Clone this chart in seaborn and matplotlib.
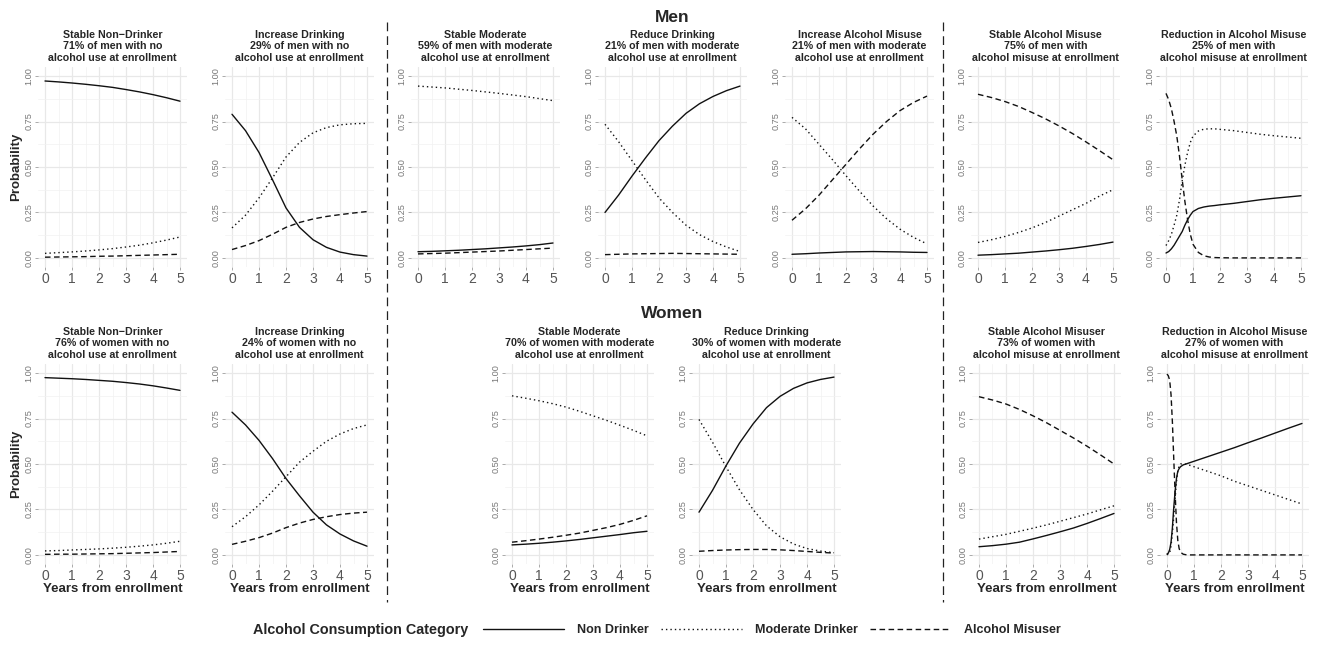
import matplotlib
matplotlib.use("Agg")
import matplotlib.pyplot as plt
import seaborn as sns
import pandas as pd
from matplotlib.lines import Line2D
from matplotlib.ticker import MultipleLocator, FormatStrFormatter

# ---- data ----
CATEGORIES = ["Non Drinker", "Moderate Drinker", "Alcohol Misuser"]
YEARS = [0, 0.5, 1, 1.5, 2, 2.5, 3, 3.5, 4, 4.5, 5]
YEARS_FAST_MEN = [0, 0.1, 0.2, 0.3, 0.4, 0.5, 0.6, 0.7, 0.8, 0.9, 1.0, 1.2, 1.4,
                  1.6, 1.8, 2.0, 2.5, 3, 3.5, 4, 4.5, 5]
YEARS_FAST_WOMEN = [0, 0.05, 0.1, 0.15, 0.2, 0.25, 0.3, 0.35, 0.4, 0.45, 0.5, 0.6,
                    0.7, 0.8, 1.0, 1.5, 2, 2.5, 3, 3.5, 4, 4.5, 5]

# men
men_stable_nondrinker_non = [0.973, 0.968, 0.962, 0.955, 0.947, 0.938, 0.926, 0.913, 0.898, 0.881, 0.862]
men_stable_nondrinker_mod = [0.025, 0.029, 0.033, 0.038, 0.044, 0.051, 0.060, 0.070, 0.083, 0.098, 0.115]
men_stable_nondrinker_mis = [0.004, 0.005, 0.006, 0.007, 0.009, 0.010, 0.012, 0.014, 0.016, 0.018, 0.020]

men_increase_drinking_non = [0.79, 0.70, 0.58, 0.43, 0.275, 0.168, 0.10, 0.058, 0.032, 0.018, 0.010]
men_increase_drinking_mod = [0.165, 0.235, 0.33, 0.44, 0.555, 0.635, 0.688, 0.717, 0.732, 0.738, 0.740]
men_increase_drinking_mis = [0.046, 0.068, 0.095, 0.13, 0.168, 0.195, 0.214, 0.228, 0.238, 0.247, 0.255]

men_stable_moderate_non = [0.034, 0.036, 0.039, 0.042, 0.046, 0.050, 0.055, 0.060, 0.066, 0.073, 0.082]
men_stable_moderate_mod = [0.945, 0.940, 0.935, 0.928, 0.921, 0.913, 0.905, 0.896, 0.887, 0.876, 0.865]
men_stable_moderate_mis = [0.022, 0.024, 0.026, 0.029, 0.032, 0.035, 0.038, 0.042, 0.046, 0.050, 0.054]

men_reduce_drinking_non = [0.25, 0.345, 0.45, 0.55, 0.645, 0.725, 0.795, 0.848, 0.888, 0.92, 0.945]
men_reduce_drinking_mod = [0.735, 0.64, 0.535, 0.43, 0.33, 0.25, 0.18, 0.128, 0.09, 0.06, 0.035]
men_reduce_drinking_mis = [0.018, 0.02, 0.022, 0.023, 0.024, 0.025, 0.024, 0.023, 0.022, 0.021, 0.02]

men_increase_misuse_non = [0.02, 0.023, 0.027, 0.03, 0.033, 0.034, 0.035, 0.034, 0.033, 0.031, 0.03]
men_increase_misuse_mod = [0.773, 0.71, 0.625, 0.54, 0.452, 0.367, 0.286, 0.216, 0.158, 0.113, 0.077]
men_increase_misuse_mis = [0.207, 0.27, 0.345, 0.43, 0.515, 0.60, 0.68, 0.75, 0.81, 0.855, 0.89]

men_stable_misuse_non = [0.015, 0.018, 0.022, 0.026, 0.032, 0.038, 0.045, 0.053, 0.063, 0.074, 0.087]
men_stable_misuse_mod = [0.085, 0.10, 0.118, 0.14, 0.165, 0.195, 0.23, 0.265, 0.30, 0.34, 0.375]
men_stable_misuse_mis = [0.90, 0.882, 0.86, 0.833, 0.80, 0.765, 0.726, 0.684, 0.638, 0.59, 0.54]

men_reduce_misuse_non = [0.027, 0.035, 0.05, 0.07, 0.095, 0.12, 0.145, 0.18, 0.21, 0.235, 0.255,
                         0.272, 0.28, 0.285, 0.288, 0.292, 0.30, 0.31, 0.32, 0.328, 0.335, 0.342]
men_reduce_misuse_mod = [0.068, 0.095, 0.13, 0.18, 0.235, 0.32, 0.425, 0.51, 0.58, 0.635, 0.67,
                         0.698, 0.708, 0.71, 0.71, 0.707, 0.70, 0.69, 0.68, 0.672, 0.665, 0.658]
men_reduce_misuse_mis = [0.905, 0.87, 0.82, 0.75, 0.67, 0.56, 0.43, 0.31, 0.21, 0.13, 0.075,
                         0.03, 0.012, 0.005, 0.002, 0.001, 0, 0, 0, 0, 0, 0]

# women
women_stable_nondrinker_non = [0.975, 0.972, 0.969, 0.965, 0.960, 0.955, 0.948, 0.940, 0.930, 0.918, 0.905]
women_stable_nondrinker_mod = [0.022, 0.024, 0.027, 0.030, 0.033, 0.037, 0.042, 0.048, 0.055, 0.064, 0.075]
women_stable_nondrinker_mis = [0.003, 0.004, 0.004, 0.005, 0.006, 0.007, 0.009, 0.011, 0.013, 0.016, 0.019]

women_increase_drinking_non = [0.785, 0.715, 0.63, 0.53, 0.42, 0.325, 0.235, 0.165, 0.115, 0.077, 0.048]
women_increase_drinking_mod = [0.155, 0.21, 0.275, 0.35, 0.43, 0.51, 0.57, 0.625, 0.665, 0.695, 0.715]
women_increase_drinking_mis = [0.058, 0.075, 0.095, 0.12, 0.15, 0.175, 0.195, 0.21, 0.222, 0.23, 0.235]

women_stable_moderate_non = [0.055, 0.059, 0.064, 0.07, 0.077, 0.085, 0.094, 0.103, 0.112, 0.122, 0.13]
women_stable_moderate_mod = [0.875, 0.862, 0.848, 0.832, 0.813, 0.79, 0.765, 0.74, 0.713, 0.685, 0.655]
women_stable_moderate_mis = [0.07, 0.078, 0.087, 0.097, 0.108, 0.12, 0.135, 0.15, 0.168, 0.19, 0.215]

women_reduce_drinking_non = [0.235, 0.355, 0.49, 0.615, 0.72, 0.81, 0.872, 0.916, 0.946, 0.965, 0.978]
women_reduce_drinking_mod = [0.745, 0.62, 0.485, 0.358, 0.25, 0.16, 0.10, 0.06, 0.035, 0.021, 0.012]
women_reduce_drinking_mis = [0.02, 0.024, 0.027, 0.029, 0.03, 0.03, 0.028, 0.024, 0.019, 0.014, 0.01]

women_stable_misuse_non = [0.045, 0.051, 0.059, 0.07, 0.088, 0.107, 0.127, 0.148, 0.173, 0.2, 0.228]
women_stable_misuse_mod = [0.087, 0.10, 0.113, 0.13, 0.147, 0.165, 0.185, 0.205, 0.225, 0.248, 0.27]
women_stable_misuse_mis = [0.87, 0.852, 0.83, 0.80, 0.765, 0.727, 0.685, 0.643, 0.598, 0.55, 0.50]

women_reduce_misuse_non = [0.005, 0.01, 0.03, 0.07, 0.15, 0.26, 0.35, 0.42, 0.46, 0.475, 0.485, 0.495,
                           0.50, 0.505, 0.515, 0.54, 0.565, 0.59, 0.617, 0.643, 0.67, 0.697, 0.723]
women_reduce_misuse_mod = [0.0, 0.005, 0.01, 0.05, 0.12, 0.21, 0.31, 0.40, 0.46, 0.49, 0.50, 0.501,
                           0.499, 0.495, 0.485, 0.46, 0.435, 0.405, 0.38, 0.355, 0.33, 0.305, 0.28]
women_reduce_misuse_mis = [0.995, 0.985, 0.96, 0.88, 0.73, 0.53, 0.34, 0.18, 0.08, 0.035, 0.015, 0.004,
                           0.001, 0, 0, 0, 0, 0, 0, 0, 0, 0, 0]

MEN_TITLES = [
    "Stable Non\u2212Drinker\n71% of men with no\nalcohol use at enrollment",
    "Increase Drinking\n29% of men with no\nalcohol use at enrollment",
    "Stable Moderate\n59% of men with moderate\nalcohol use at enrollment",
    "Reduce Drinking\n21% of men with moderate\nalcohol use at enrollment",
    "Increase Alcohol Misuse\n21% of men with moderate\nalcohol use at enrollment",
    "Stable Alcohol Misuse\n75% of men with\nalcohol misuse at enrollment",
    "Reduction in Alcohol Misuse\n25% of men with\nalcohol misuse at enrollment",
]
WOMEN_TITLES = [
    "Stable Non\u2212Drinker\n76% of women with no\nalcohol use at enrollment",
    "Increase Drinking\n24% of women with no\nalcohol use at enrollment",
    "Stable Moderate\n70% of women with moderate\nalcohol use at enrollment",
    "Reduce Drinking\n30% of women with moderate\nalcohol use at enrollment",
    "Stable Alcohol Misuser\n73% of women with\nalcohol misuse at enrollment",
    "Reduction in Alcohol Misuse\n27% of women with\nalcohol misuse at enrollment",
]

MEN_PANELS = [
    (YEARS, men_stable_nondrinker_non, men_stable_nondrinker_mod, men_stable_nondrinker_mis),
    (YEARS, men_increase_drinking_non, men_increase_drinking_mod, men_increase_drinking_mis),
    (YEARS, men_stable_moderate_non, men_stable_moderate_mod, men_stable_moderate_mis),
    (YEARS, men_reduce_drinking_non, men_reduce_drinking_mod, men_reduce_drinking_mis),
    (YEARS, men_increase_misuse_non, men_increase_misuse_mod, men_increase_misuse_mis),
    (YEARS, men_stable_misuse_non, men_stable_misuse_mod, men_stable_misuse_mis),
    (YEARS_FAST_MEN, men_reduce_misuse_non, men_reduce_misuse_mod, men_reduce_misuse_mis),
]
WOMEN_PANELS = [
    (YEARS, women_stable_nondrinker_non, women_stable_nondrinker_mod, women_stable_nondrinker_mis),
    (YEARS, women_increase_drinking_non, women_increase_drinking_mod, women_increase_drinking_mis),
    (YEARS, women_stable_moderate_non, women_stable_moderate_mod, women_stable_moderate_mis),
    (YEARS, women_reduce_drinking_non, women_reduce_drinking_mod, women_reduce_drinking_mis),
    (YEARS, women_stable_misuse_non, women_stable_misuse_mod, women_stable_misuse_mis),
    (YEARS_FAST_WOMEN, women_reduce_misuse_non, women_reduce_misuse_mod, women_reduce_misuse_mis),
]

# ---- layout (pixels in a 1326x645 canvas) ----
W, H = 1326, 645
MEN_X0 = [45, 232, 418, 605, 792, 978, 1166]
WOMEN_X0 = [45, 232, 512, 699, 979, 1167]
PX_PER_YEAR = 27.0
AX_H = 200
MEN_TOP, WOMEN_TOP = 67, 364

DASHES = {"Non Drinker": "", "Moderate Drinker": (1, 2.2), "Alcohol Misuser": (4, 2.5)}
LW = 1.0

sns.set_theme(style="whitegrid")
plt.rcParams["font.family"] = ["Liberation Sans", "DejaVu Sans"]

fig = plt.figure(figsize=(W / 100, H / 100), dpi=100)


def draw_panel(x0, top, title, panel, xlabel):
    years, non, mod, mis = panel
    ax = fig.add_axes([(x0 - 0.25 * PX_PER_YEAR) / W, 1 - (top + AX_H) / H,
                       5.5 * PX_PER_YEAR / W, AX_H / H])
    df = pd.DataFrame({
        "year": list(years) * 3,
        "prob": list(non) + list(mod) + list(mis),
        "category": [CATEGORIES[0]] * len(years) + [CATEGORIES[1]] * len(years)
                    + [CATEGORIES[2]] * len(years),
    })
    sns.lineplot(data=df, x="year", y="prob", style="category", style_order=CATEGORIES,
                 dashes=DASHES, color="#111111", linewidth=LW, estimator=None,
                 sort=False, legend=False, ax=ax)
    ax.set_xlim(-0.25, 5.25)
    ax.set_ylim(-0.05, 1.05)
    ax.xaxis.set_major_locator(MultipleLocator(1))
    ax.xaxis.set_minor_locator(MultipleLocator(0.5))
    ax.yaxis.set_major_locator(MultipleLocator(0.25))
    ax.yaxis.set_minor_locator(MultipleLocator(0.125))
    ax.yaxis.set_major_formatter(FormatStrFormatter("%.2f"))
    ax.grid(which="major", color="#e8e8e8", linewidth=0.9)
    ax.grid(which="minor", color="#f1f1f1", linewidth=0.5)
    ax.set_axisbelow(True)
    for s in ax.spines.values():
        s.set_visible(False)
    ax.tick_params(which="major", length=2, width=0.5, color="#888888", pad=1.5,
                   bottom=True, left=True)
    ax.tick_params(which="minor", length=0)
    ax.tick_params(axis="x", labelsize=10, labelcolor="#555555")
    ax.tick_params(axis="y", labelsize=6.6, labelcolor="#777777", labelrotation=90)
    for lab in ax.get_yticklabels():
        lab.set_va("center")
    ax.set_ylabel("")
    ax.set_title(title, fontsize=7.7, fontweight="bold", pad=4.5, linespacing=1.2)
    if xlabel:
        ax.set_xlabel("Years from enrollment", fontsize=9.5, fontweight="bold")
        ax.xaxis.set_label_coords(0.5, -0.125)
        ax.xaxis.label.set_va("center")
    else:
        ax.set_xlabel("")
    return ax


for x0, title, panel in zip(MEN_X0, MEN_TITLES, MEN_PANELS):
    draw_panel(x0, MEN_TOP, title, panel, xlabel=False)
for x0, title, panel in zip(WOMEN_X0, WOMEN_TITLES, WOMEN_PANELS):
    draw_panel(x0, WOMEN_TOP, title, panel, xlabel=True)

# row headings and y labels
fig.text(672 / W, 1 - 17 / H, "Men", ha="center", va="center", fontsize=12.5, fontweight="bold")
fig.text(672 / W, 1 - 313 / H, "Women", ha="center", va="center", fontsize=12.5, fontweight="bold")
for top in (MEN_TOP, WOMEN_TOP):
    fig.text(16 / W, 1 - (top + AX_H / 2) / H, "Probability", rotation=90,
             ha="center", va="center", fontsize=9.5, fontweight="bold")

# group separators
for xs in (387, 943):
    fig.add_artist(Line2D([xs / W, xs / W], [1 - 22 / H, 1 - 602 / H],
                          transform=fig.transFigure, color="#222222", lw=0.9,
                          linestyle=(0, (7, 4))))

# legend
fig.text(468 / W, 1 - 630 / H, "Alcohol Consumption Category", ha="right", va="center",
         fontsize=10.4, fontweight="bold")
handles = []
for cat in CATEGORIES:
    if DASHES[cat] == "":
        handles.append(Line2D([], [], color="#111111", lw=LW, linestyle="-"))
    else:
        handles.append(Line2D([], [], color="#111111", lw=LW, dashes=DASHES[cat]))
fig.legend(handles, CATEGORIES, loc="center left", bbox_to_anchor=(483 / W, 1 - 630 / H),
           ncol=3, frameon=False, handlelength=6.5, handletextpad=1.0, columnspacing=1.0,
           borderpad=0, borderaxespad=0, prop={"weight": "bold", "size": 9})

fig.savefig("out.png", dpi=100)
